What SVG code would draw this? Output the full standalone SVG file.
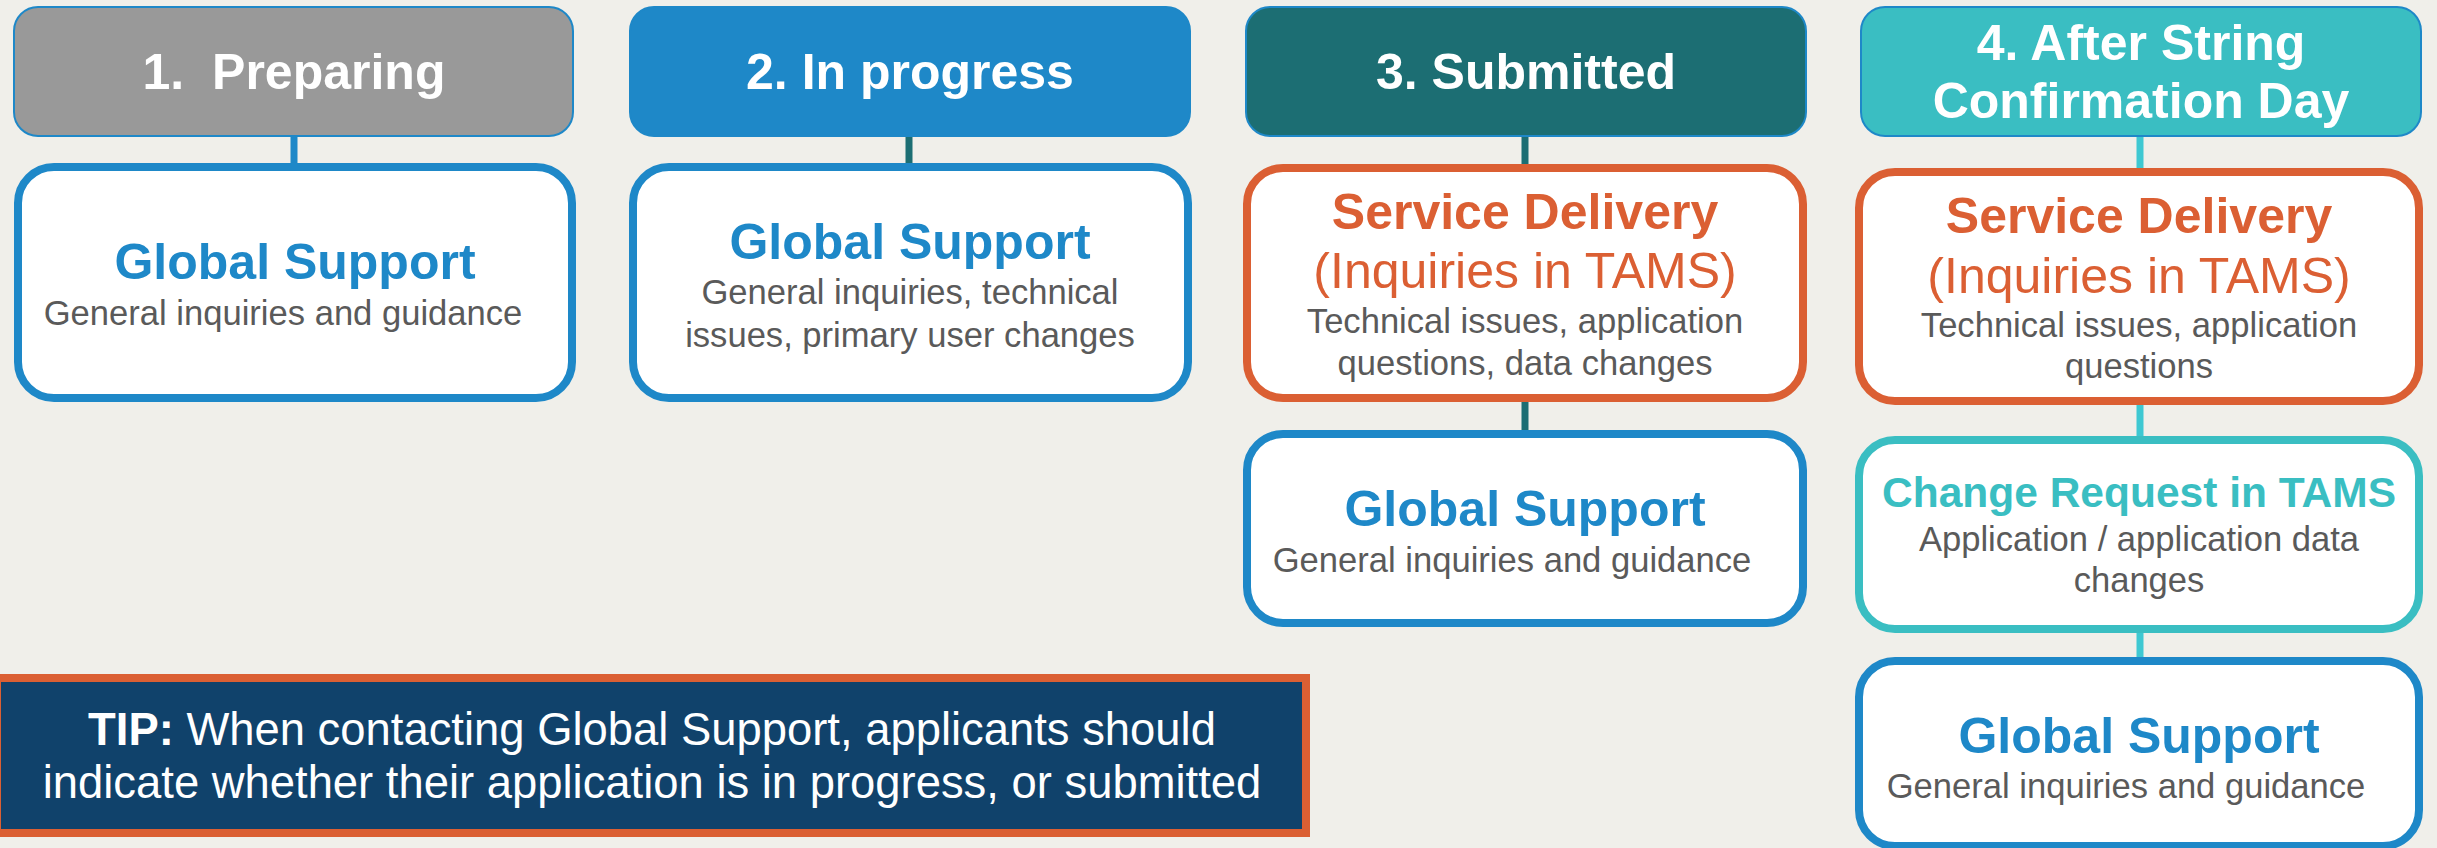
<svg xmlns="http://www.w3.org/2000/svg" width="2437" height="848" viewBox="0 0 2437 848">
<style>
text{font-family:"Liberation Sans",Arial,Helvetica,sans-serif;text-anchor:middle}
.hdr{stroke:#1E88C8;stroke-width:2}
.hdr-t{fill:#FFFFFF;font-weight:bold;font-size:50px;white-space:pre}
.box{fill:#FFFFFF;stroke-width:8}
.b-blue{stroke:#1E88C8}
.b-orange{stroke:#DB5F33}
.b-cyan{stroke:#3ABEC2}
.t-gs{fill:#1E88C8;font-weight:bold;font-size:50px}
.t-sd{fill:#DB5F33;font-weight:bold;font-size:50px}
.t-inq{fill:#DB5F33;font-size:50px}
.t-cr{fill:#3ABEC2;font-weight:bold;font-size:42.5px}
.t-sub{fill:#5A5A5A;font-size:34.6px}
.t-tip{fill:#FFFFFF;font-size:45.4px}
.conn{stroke-width:7;fill:none}
</style>
<rect x="0" y="0" width="2437" height="848" fill="#F0EFEA"/>
<g id="connectors">
<line class="conn" x1="294" y1="136" x2="294" y2="167" stroke="#1E88C8"/>
<line class="conn" x1="909" y1="136" x2="909" y2="167" stroke="#1C6E73"/>
<line class="conn" x1="1525" y1="136" x2="1525" y2="168" stroke="#1C6E73"/>
<line class="conn" x1="1525" y1="400" x2="1525" y2="434" stroke="#1C6E73"/>
<line class="conn" x1="2140" y1="136" x2="2140" y2="172" stroke="#3EC8D2"/>
<line class="conn" x1="2140" y1="403" x2="2140" y2="440" stroke="#3EC8D2"/>
<line class="conn" x1="2140" y1="631" x2="2140" y2="661" stroke="#3EC8D2"/>
</g>
<g id="header-1">
<rect class="hdr" x="14" y="7" width="559" height="129" rx="24" fill="#999999"/>
<text class="hdr-t" x="294" y="89">1.  Preparing</text>
</g>
<g id="header-2">
<rect class="hdr" x="630" y="7" width="560" height="129" rx="24" fill="#1E88C8"/>
<text class="hdr-t" x="910" y="89">2. In progress</text>
</g>
<g id="header-3">
<rect class="hdr" x="1246" y="7" width="560" height="129" rx="24" fill="#1C6E73"/>
<text class="hdr-t" x="1526" y="89">3. Submitted</text>
</g>
<g id="header-4">
<rect class="hdr" x="1861" y="7" width="560" height="129" rx="24" fill="#3ABEC2"/>
<text class="hdr-t" x="2141" y="60">4. After String</text>
<text class="hdr-t" x="2141" y="118">Confirmation Day</text>
</g>
<g id="gs-1">
<rect class="box b-blue" x="18" y="167" width="554" height="231" rx="36"/>
<text class="t-gs" x="295" y="279">Global Support</text>
<text class="t-sub" x="283" y="325">General inquiries and guidance</text>
</g>
<g id="gs-2">
<rect class="box b-blue" x="633" y="167" width="555" height="231" rx="36"/>
<text class="t-gs" x="910" y="259">Global Support</text>
<text class="t-sub" x="910" y="304">General inquiries, technical</text>
<text class="t-sub" x="910" y="347">issues, primary user changes</text>
</g>
<g id="sd-3">
<rect class="box b-orange" x="1247" y="168" width="556" height="230" rx="36"/>
<text class="t-sd" x="1525" y="229">Service Delivery</text>
<text class="t-inq" x="1525" y="288">(Inquiries in TAMS)</text>
<text class="t-sub" x="1525" y="333">Technical issues, application</text>
<text class="t-sub" x="1525" y="375">questions, data changes</text>
</g>
<g id="gs-3">
<rect class="box b-blue" x="1247" y="434" width="556" height="189" rx="36"/>
<text class="t-gs" x="1525" y="526">Global Support</text>
<text class="t-sub" x="1512" y="572">General inquiries and guidance</text>
</g>
<g id="sd-4">
<rect class="box b-orange" x="1859" y="172" width="560" height="229" rx="36"/>
<text class="t-sd" x="2139" y="233">Service Delivery</text>
<text class="t-inq" x="2139" y="293">(Inquiries in TAMS)</text>
<text class="t-sub" x="2139" y="337">Technical issues, application</text>
<text class="t-sub" x="2139" y="378">questions</text>
</g>
<g id="cr-4">
<rect class="box b-cyan" x="1859" y="440" width="560" height="189" rx="36"/>
<text class="t-cr" x="2139" y="507">Change Request in TAMS</text>
<text class="t-sub" x="2139" y="551">Application / application data</text>
<text class="t-sub" x="2139" y="592">changes</text>
</g>
<g id="gs-4">
<rect class="box b-blue" x="1859" y="661" width="560" height="185" rx="36"/>
<text class="t-gs" x="2139" y="753">Global Support</text>
<text class="t-sub" x="2126" y="798">General inquiries and guidance</text>
</g>
<g id="tip">
<rect x="-3" y="678" width="1309" height="155" fill="#10426B" stroke="#DB5F33" stroke-width="8"/>
<text class="t-tip" x="652" y="745"><tspan font-weight="bold">TIP:</tspan> When contacting Global Support, applicants should</text>
<text class="t-tip" x="652" y="798">indicate whether their application is in progress, or submitted</text>
</g>
</svg>
